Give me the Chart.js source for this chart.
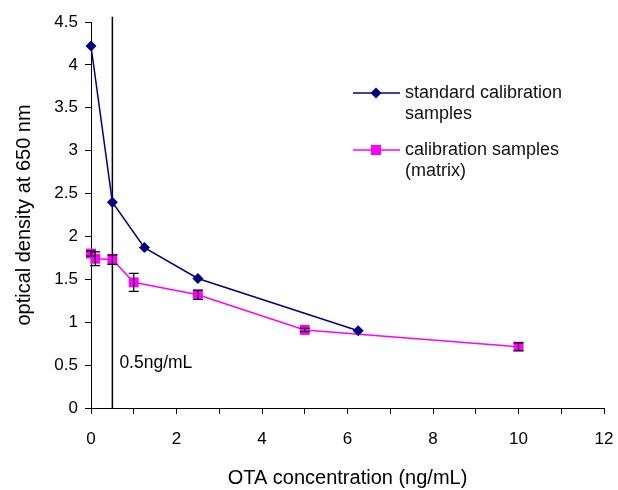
<!DOCTYPE html>
<html>
<head>
<meta charset="utf-8">
<script src="https://cdn.jsdelivr.net/npm/chart.js@4"></script>
<style>
html,body{margin:0;padding:0;background:#fff;}
#wrap{position:relative;width:618px;height:490px;}
</style>
</head>
<body>
<div id="wrap"><canvas id="c" width="618" height="490"></canvas></div>
<script>
// ---- data ----
const stdX = [0, 0.5, 1.25, 2.5, 6.25];
const stdY = [4.22, 2.4, 1.87, 1.51, 0.9];
const matX = [0, 0.1, 0.5, 1, 2.5, 5, 10];
const matY = [1.8, 1.74, 1.73, 1.465, 1.32, 0.91, 0.715];
const matErr = [0.03, 0.08, 0.055, 0.105, 0.055, 0.02, 0.045];
const refX = [0.5, 0.5];
const refY = [0, 4.56];
const refLabel = '0.5ng/mL';
const legendNames = [['standard calibration', 'samples'], ['calibration samples', '(matrix)']];
const xTicks = [0, 2, 4, 6, 8, 10, 12];
const yTicks = [0, 0.5, 1, 1.5, 2, 2.5, 3, 3.5, 4, 4.5];

const FONT = 'Liberation Sans, Arial, sans-serif';
const NAVY = '#000080';
const MAG = '#ff00ff';

const toPts = (xs, ys) => xs.map((x, i) => ({x: x, y: ys[i]}));

const errorBars = {
  id: 'errorBars',
  afterDatasetsDraw(chart) {
    const {ctx, scales: {x, y}} = chart;
    ctx.save();
    ctx.strokeStyle = '#000';
    ctx.lineWidth = 1.2;
    matX.forEach((v, i) => {
      const px = x.getPixelForValue(v);
      const top = y.getPixelForValue(matY[i] + matErr[i]);
      const bot = y.getPixelForValue(matY[i] - matErr[i]);
      ctx.beginPath();
      ctx.moveTo(px, top); ctx.lineTo(px, bot);
      ctx.moveTo(px - 5, top); ctx.lineTo(px + 5, top);
      ctx.moveTo(px - 5, bot); ctx.lineTo(px + 5, bot);
      ctx.stroke();
    });
    // reference label
    ctx.fillStyle = '#000';
    ctx.font = '17.5px ' + FONT;
    ctx.textBaseline = 'middle';
    ctx.textAlign = 'left';
    ctx.fillText(refLabel, x.getPixelForValue(refX[0]) + 7, y.getPixelForValue(0.525));
    ctx.restore();
  }
};

const customLegend = {
  id: 'customLegend',
  afterDraw(chart) {
    const {ctx} = chart;
    const items = [
      {color: NAVY, shape: 'diamond', y: 93, lines: legendNames[0]},
      {color: MAG, shape: 'square', y: 150, lines: legendNames[1]}
    ];
    ctx.save();
    items.forEach(it => {
      ctx.strokeStyle = it.color;
      ctx.lineWidth = 1.5;
      ctx.beginPath();
      ctx.moveTo(353, it.y); ctx.lineTo(400, it.y);
      ctx.stroke();
      ctx.fillStyle = it.color;
      ctx.beginPath();
      if (it.shape === 'diamond') {
        ctx.moveTo(376, it.y - 5.5); ctx.lineTo(381.5, it.y);
        ctx.lineTo(376, it.y + 5.5); ctx.lineTo(370.5, it.y);
        ctx.closePath();
      } else {
        ctx.rect(371, it.y - 5, 10, 10);
      }
      ctx.fill();
      ctx.fillStyle = '#111';
      ctx.font = '18px ' + FONT;
      ctx.textBaseline = 'middle';
      ctx.textAlign = 'left';
      it.lines.forEach((t, k) => ctx.fillText(t, 405, it.y + k * 21));
    });
    ctx.restore();
  }
};

new Chart(document.getElementById('c'), {
  type: 'scatter',
  data: {
    datasets: [
      {
        label: 'ref',
        data: toPts(refX, refY),
        showLine: true,
        borderColor: '#000',
        borderWidth: 1.5,
        pointRadius: 0,
        clip: false,
        order: 3
      },
      {
        label: legendNames[0].join(' '),
        data: toPts(stdX, stdY),
        showLine: true,
        borderColor: NAVY,
        backgroundColor: NAVY,
        borderWidth: 1.5,
        pointStyle: 'rectRot',
        pointRadius: 5.5,
        pointBorderWidth: 0,
        tension: 0,
        clip: false,
        order: 1
      },
      {
        label: legendNames[1].join(' '),
        data: toPts(matX, matY),
        showLine: true,
        borderColor: MAG,
        backgroundColor: MAG,
        borderWidth: 1.5,
        pointStyle: 'rect',
        pointRadius: 7,
        pointBorderWidth: 0,
        tension: 0,
        clip: false,
        order: 2
      }
    ]
  },
  options: {
    responsive: false,
    animation: false,
    devicePixelRatio: 1,
    layout: {padding: {left: 0, top: 22, right: 14, bottom: 0}},
    plugins: {legend: {display: false}, tooltip: {enabled: false}},
    scales: {
      x: {
        type: 'linear',
        min: 0, max: 12,
        afterFit(s) { s.height = 82; s.paddingLeft = 0; s.paddingRight = 0; },
        afterBuildTicks(s) { s.ticks = [0,1,2,3,4,5,6,7,8,9,10,11,12].map(v => ({value: v})); },
        border: {color: '#000', width: 1},
        grid: {drawOnChartArea: false, color: '#000', tickLength: 6, tickColor: '#000'},
        ticks: {
          color: '#000',
          font: {family: FONT, size: 17},
          padding: 15,
          maxRotation: 0,
          autoSkip: false,
          callback: v => xTicks.includes(v) ? String(v) : ''
        },
        title: {
          display: true,
          text: 'OTA concentration (ng/mL)',
          color: '#000',
          font: {family: FONT, size: 20},
          padding: {top: 0, bottom: 0}
        }
      },
      y: {
        type: 'linear',
        min: 0, max: 4.5,
        afterFit(s) { s.width = 91; s.paddingTop = 0; s.paddingBottom = 0; },
        afterBuildTicks(s) { s.ticks = yTicks.map(v => ({value: v})); },
        border: {color: '#000', width: 1},
        grid: {drawOnChartArea: false, color: '#000', tickLength: 6, tickColor: '#000'},
        ticks: {
          color: '#000',
          font: {family: FONT, size: 17},
          padding: 7,
          autoSkip: false,
          callback: v => String(v)
        },
        title: {
          display: true,
          text: 'optical density at 650 nm',
          color: '#000',
          font: {family: FONT, size: 20},
          padding: {top: 12, bottom: 0}
        }
      }
    }
  },
  plugins: [errorBars, customLegend]
});
</script>
</body>
</html>
